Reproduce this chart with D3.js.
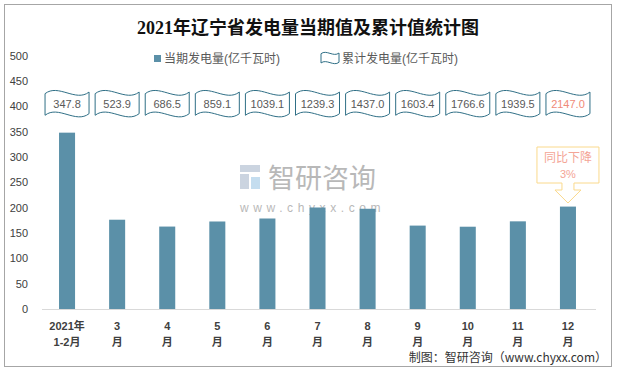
<!DOCTYPE html>
<html>
<head>
<meta charset="utf-8">
<script src="https://cdn.jsdelivr.net/npm/d3@7"></script>
<style>
  body { margin: 0; background: #fff; }
  svg { display: block; }
  text { font-family: "Liberation Sans", "Noto Sans CJK SC", sans-serif; }
</style>
</head>
<body>
<svg id="chart" width="617" height="370"></svg>
<script>
const categories = ["1-2", "3", "4", "5", "6", "7", "8", "9", "10", "11", "12"];
const labelTop = ["2021年", "3", "4", "5", "6", "7", "8", "9", "10", "11", "12"];
const labelBottom = ["1-2月", "月", "月", "月", "月", "月", "月", "月", "月", "月", "月"];
const monthly = [347.8, 176.1, 162.6, 172.6, 178.5, 200.2, 197.7, 164.5, 162.3, 172.9, 202.0];
const cumulative = ["347.8", "523.9", "686.5", "859.1", "1039.1", "1239.3", "1437.0", "1603.4", "1766.6", "1939.5", "2147.0"];
const yTicks = [0, 50, 100, 150, 200, 250, 300, 350, 400, 450, 500];

const barColor = "#5b90a8";
const waveStroke = "#2f6f86";

const svg = d3.select("#chart");

// outer frame
svg.append("rect").attr("x", 4.5).attr("y", 4.5).attr("width", 607).attr("height", 362)
  .attr("fill", "#fff").attr("stroke", "#a6a6a6").attr("stroke-width", 1);

const x = d3.scaleBand().domain(categories).range([42, 593]).paddingInner(0.68).paddingOuter(0.34);
const y = d3.scaleLinear().domain([0, 500]).range([309, 55.5]);

// title
svg.append("text").attr("x", 308).attr("y", 34).attr("text-anchor", "middle")
  .attr("font-size", 18).attr("font-weight", "bold").attr("fill", "#111")
  .style("font-family", "'Liberation Serif', 'Noto Sans CJK SC', serif")
  .text("2021年辽宁省发电量当期值及累计值统计图");

// y axis labels
const yAxis = d3.axisLeft(y).tickValues(yTicks).tickSize(0).tickPadding(0);
const ya = svg.append("g").attr("transform", "translate(28,0)").call(yAxis);
ya.select(".domain").remove();
ya.selectAll("text").attr("font-size", 11).attr("fill", "#404040")
  .style("font-family", "'Liberation Sans', sans-serif");

// watermark
const wm = svg.append("g").attr("opacity", 0.6);
wm.append("rect").attr("x", 240).attr("y", 165).attr("width", 20).attr("height", 7).attr("fill", "#a9b9cc");
wm.append("rect").attr("x", 240).attr("y", 174).attr("width", 9).attr("height", 15).attr("fill", "#a9b9cc");
wm.append("rect").attr("x", 251).attr("y", 177).attr("width", 9).attr("height", 12).attr("fill", "#9ec7e6");
wm.append("text").attr("x", 268).attr("y", 188).attr("font-size", 27).attr("fill", "#8a8a8a")
  .style("font-family", "'Noto Sans CJK SC', sans-serif").text("智研咨询");
wm.append("text").attr("x", 240).attr("y", 212).attr("font-size", 12).attr("fill", "#8a8a8a")
  .attr("letter-spacing", 4.6).text("www.chyxx.com");

// bars
svg.append("g").selectAll("rect").data(monthly).join("rect")
  .attr("x", (d, i) => x(categories[i]))
  .attr("y", d => y(d))
  .attr("width", x.bandwidth())
  .attr("height", d => y(0) - y(d))
  .attr("fill", barColor);

// x axis line
svg.append("line").attr("x1", 42).attr("x2", 596).attr("y1", 309.5).attr("y2", 309.5)
  .attr("stroke", "#d9d9d9");

// x labels
const xl = svg.append("g");
categories.forEach((c, i) => {
  const cx = x(c) + x.bandwidth() / 2;
  xl.append("text").attr("x", cx).attr("y", 330).attr("text-anchor", "middle")
    .attr("font-size", 11).attr("font-weight", "bold").attr("fill", "#404040").text(labelTop[i]);
  xl.append("text").attr("x", cx).attr("y", 346).attr("text-anchor", "middle")
    .attr("font-size", 11).attr("font-weight", "bold").attr("fill", "#404040").text(labelBottom[i]);
});

// wave shape path
function wavePath(x0, y0, w, h) {
  const a = h / 7;
  return `M${x0},${y0 + a}` +
    ` C${x0 + w * 0.3},${y0 - a * 1.6} ${x0 + w * 0.7},${y0 + a * 3.2} ${x0 + w},${y0 + a * 0.6}` +
    ` L${x0 + w},${y0 + h - a}` +
    ` C${x0 + w * 0.7},${y0 + h + a * 1.6} ${x0 + w * 0.3},${y0 + h - a * 3.2} ${x0},${y0 + h - a * 0.6} Z`;
}

// cumulative wave labels
const yWave = y(405);
const wv = svg.append("g");
cumulative.forEach((v, i) => {
  const cx = x(categories[i]) + x.bandwidth() / 2;
  wv.append("path").attr("d", wavePath(cx - 22, yWave - 14, 44, 28))
    .attr("fill", "#fff").attr("stroke", waveStroke).attr("stroke-width", 1);
  wv.append("text").attr("x", cx).attr("y", yWave + 4).attr("text-anchor", "middle")
    .attr("font-size", 11).attr("fill", i === cumulative.length - 1 ? "#f08a78" : "#595959")
    .text(v);
});

// legend
const lg = svg.append("g");
lg.append("rect").attr("x", 154).attr("y", 55).attr("width", 7).attr("height", 7).attr("fill", barColor);
lg.append("text").attr("x", 164).attr("y", 63).attr("font-size", 12).attr("fill", "#595959")
  .text("当期发电量(亿千瓦时)");
lg.append("path").attr("d", wavePath(321, 52, 18, 12))
  .attr("fill", "#fff").attr("stroke", waveStroke);
lg.append("text").attr("x", 342).attr("y", 63).attr("font-size", 12).attr("fill", "#595959")
  .text("累计发电量(亿千瓦时)");

// callout on last bar
const lx = x(categories[10]) + x.bandwidth() / 2;
const callout = svg.append("g");
callout.append("path")
  .attr("d", `M${lx - 31},147 L${lx + 31},147 L${lx + 31},183 L${lx + 6},183 L${lx + 6},190 L${lx + 13},190 L${lx},203 L${lx - 13},190 L${lx - 6},190 L${lx - 6},183 L${lx - 31},183 Z`)
  .attr("fill", "#fff").attr("stroke", "#fad98c").attr("stroke-width", 1);
callout.append("text").attr("x", lx).attr("y", 162).attr("text-anchor", "middle")
  .attr("font-size", 12).attr("fill", "#f4a596").text("同比下降");
callout.append("text").attr("x", lx).attr("y", 178).attr("text-anchor", "middle")
  .attr("font-size", 11).attr("fill", "#f4a596").text("3%");

// footer
svg.append("text").attr("x", 607).attr("y", 362).attr("text-anchor", "end")
  .attr("font-size", 12).attr("fill", "#333")
  .style("font-family", "'Noto Sans CJK SC', sans-serif")
  .text("制图：智研咨询（www.chyxx.com）");
</script>
</body>
</html>
